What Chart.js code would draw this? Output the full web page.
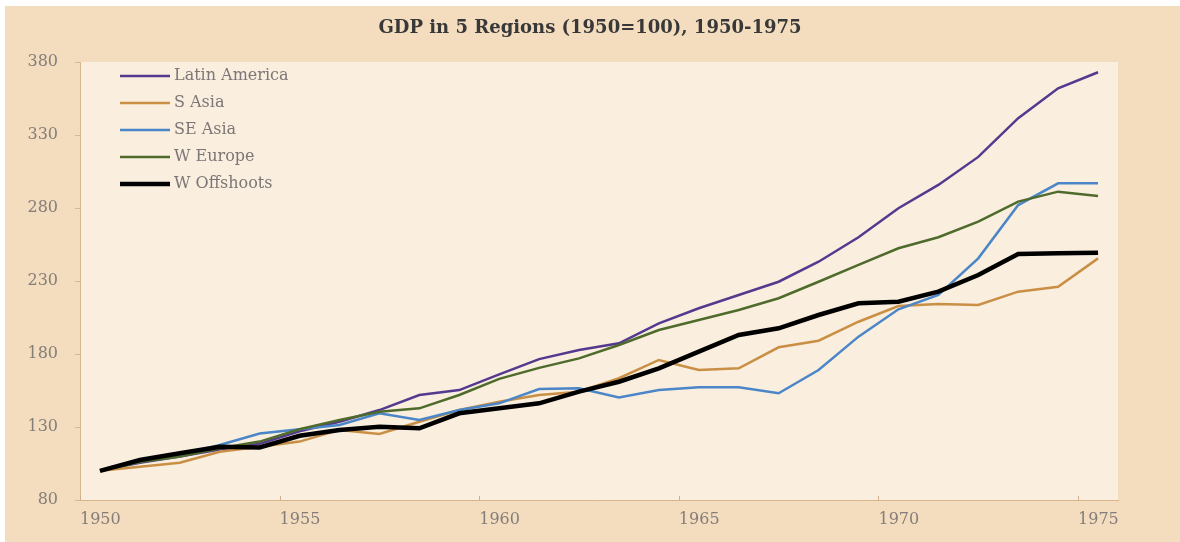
<!DOCTYPE html>
<html>
<head>
<meta charset="utf-8">
<script src="https://cdn.jsdelivr.net/npm/chart.js@4"></script>
<style>
  html, body { margin: 0; padding: 0; background: #fff; }
  #wrap { width: 1180px; height: 542px; }
</style>
</head>
<body>
<div id="wrap"><canvas id="gdpChart" width="1180" height="542"></canvas></div>
<script>
const years = [1950, 1951, 1952, 1953, 1954, 1955, 1956, 1957, 1958, 1959, 1960, 1961, 1962,
  1963, 1964, 1965, 1966, 1967, 1968, 1969, 1970, 1971, 1972, 1973, 1974, 1975];
const xTickLabels = ["1950", "1955", "1960", "1965", "1970", "1975"];
const seriesNames = ["Latin America", "S Asia", "SE Asia", "W Europe", "W Offshoots"];

const latinAmerica = [100, 105.5, 109.7, 114.6, 118.5, 127, 133.6, 141.6, 151.9, 155.3, 166, 176.5, 182.7,
  187.3, 201, 211.3, 220.4, 229.5, 243.2, 260, 279.8, 295.8, 315, 341.5, 362, 373];
const sAsia = [100, 102.8, 105.5, 113, 116.5, 120, 128, 125.2, 133.6, 141.6, 147.3, 151.9, 154.2,
  163.4, 175.9, 169, 170.2, 184.6, 189.1, 202.1, 212.9, 214.2, 213.6, 222.7, 226.1, 245.5];
const seAsia = [100, 106.2, 110.8, 117.7, 125.5, 128.5, 131.4, 139.4, 134.8, 141.6, 146.2, 156, 156.5,
  150.3, 155.3, 157.2, 157.2, 153.1, 169, 191.9, 210.6, 220.4, 245.5, 282, 296.9, 296.9];
const wEurope = [100, 106, 109.7, 115.4, 120, 128.5, 134.8, 140.5, 142.8, 151.9, 163, 170.5, 177,
  186.2, 196.4, 203.3, 210.1, 218.2, 229.5, 241, 252.4, 260, 270.7, 284.4, 291.2, 288.2];
const wOffshoots = [100, 107.4, 112, 116.5, 116, 124, 128, 130.2, 129.1, 139.4, 142.8, 146.2, 154.2,
  161, 170.2, 181.6, 193, 197.6, 206.7, 214.7, 215.8, 222.7, 234.1, 248.5, 249, 249.4];

const colors = ["#533a8f", "#c98f45", "#4a86c8", "#4e6b2c", "#000000"];
const widths = [2.5, 2.5, 2.5, 2.5, 4.5];
const serif = "'DejaVu Serif', serif";

// x is the year index, so ticks can sit on category boundaries like the original
const toPoints = arr => arr.map((v, i) => ({ x: i, y: v }));
const allSeries = [latinAmerica, sAsia, seAsia, wEurope, wOffshoots];

const datasets = allSeries.map((arr, i) => ({
  label: seriesNames[i],
  data: toPoints(arr),
  borderColor: colors[i],
  backgroundColor: colors[i],
  borderWidth: widths[i],
  pointRadius: 0,
  tension: 0,
  order: allSeries.length - i
}));

const backdrop = {
  id: "backdrop",
  beforeDraw(chart) {
    const { ctx, chartArea: a } = chart;
    ctx.save();
    ctx.fillStyle = "#ffffff";
    ctx.fillRect(0, 0, chart.width, chart.height);
    ctx.fillStyle = "#f3ddbe";
    ctx.fillRect(5, 6, chart.width - 5, chart.height - 6);
    ctx.fillStyle = "#faeede";
    ctx.fillRect(a.left, a.top, a.right - a.left, a.bottom - a.top);
    ctx.restore();
  },
  afterDraw(chart) {
    // small tick marks pointing up into the plot, and the legend inside the plot
    const { ctx, chartArea: a } = chart;
    const xs = chart.scales.x;
    ctx.save();
    ctx.strokeStyle = "#cfb08a";
    ctx.lineWidth = 1;
    xs.ticks.forEach(t => {
      const px = Math.round(xs.getPixelForValue(t.value)) + 0.5;
      ctx.beginPath();
      ctx.moveTo(px, a.bottom);
      ctx.lineTo(px, a.bottom - 4);
      ctx.stroke();
    });
    ctx.font = "16px " + serif;
    ctx.textBaseline = "middle";
    chart.data.datasets.forEach((ds, i) => {
      const y = a.top + 14 + i * 27;
      ctx.strokeStyle = ds.borderColor;
      ctx.lineWidth = ds.borderWidth;
      ctx.beginPath();
      ctx.moveTo(a.left + 40, y);
      ctx.lineTo(a.left + 90, y);
      ctx.stroke();
      ctx.fillStyle = "#7d7676";
      ctx.fillText(ds.label, a.left + 94, y);
    });
    ctx.restore();
  }
};

new Chart(document.getElementById("gdpChart"), {
  type: "line",
  data: { datasets },
  plugins: [backdrop],
  options: {
    responsive: false,
    animation: false,
    layout: { padding: 0 },
    plugins: {
      legend: { display: false },
      tooltip: { enabled: false },
      title: {
        display: true,
        text: "GDP in 5 Regions (1950=100), 1950-1975",
        color: "#383838",
        font: { family: serif, size: 18, weight: "bold" },
        padding: { top: 17.5, bottom: 22.9 }
      }
    },
    scales: {
      x: {
        type: "linear",
        min: -0.5,
        max: years.length - 0.5,
        afterBuildTicks(scale) {
          scale.ticks = xTickLabels.map((_, i) => ({ value: i * 5 - 0.5 }));
        },
        afterFit(scale) { scale.height = 42; },
        grid: { display: true, drawOnChartArea: false, drawTicks: false },
        border: { color: "#d6b78e" },
        ticks: {
          align: "start",
          padding: 10,
          color: "#847d7a",
          font: { family: serif, size: 16 },
          maxRotation: 0,
          callback: (v, i) => xTickLabels[i]
        }
      },
      y: {
        min: 80,
        max: 380,
        afterFit(scale) { scale.width = 80; },
        grid: { drawOnChartArea: false, drawTicks: true, tickLength: 5, color: "#d6b78e" },
        border: { color: "#d6b78e" },
        ticks: {
          stepSize: 50,
          padding: 17,
          color: "#847d7a",
          font: { family: serif, size: 16 }
        }
      },
      // empty right-hand spacer so the plot ends where the original does
      spacer: {
        type: "linear",
        position: "right",
        afterFit(scale) { scale.width = 62; },
        grid: { display: false },
        border: { display: false },
        ticks: { display: false }
      }
    }
  }
});
</script>
</body>
</html>
